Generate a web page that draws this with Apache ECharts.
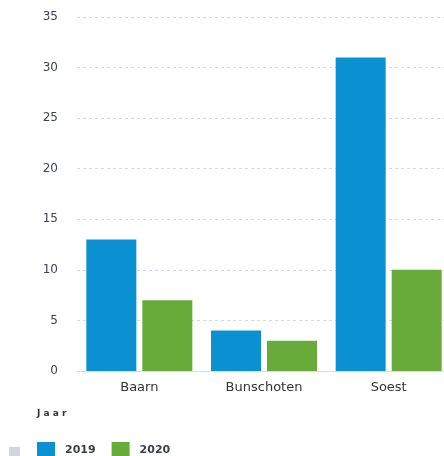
<!DOCTYPE html>
<html>
<head>
<meta charset="utf-8">
<script src="https://cdn.jsdelivr.net/npm/echarts@6/dist/echarts.min.js"></script>
<style>
  html, body { margin: 0; padding: 0; background: #fff; }
  #chart { width: 444px; height: 456px; }
</style>
</head>
<body>
<div id="chart"></div>
<script>
// gemeenten en aantallen per jaar
const categories = ['Baarn', 'Bunschoten', 'Soest'];
const years = ['2019', '2020'];
const values2019 = [13, 4, 31];
const values2020 = [7, 3, 10];
const yTicks = [0, 5, 10, 15, 20, 25, 30, 35];

const font = 'DejaVu Sans';
const colors = ['#0b91d2', '#69ab3a'];

const chart = echarts.init(document.getElementById('chart'));

chart.setOption({
  animation: false,
  color: colors,
  textStyle: { fontFamily: font },
  title: {
    text: 'J a a r',
    left: 32,
    top: 404,
    textStyle: { fontSize: 9, fontWeight: 'bold', color: '#333', fontFamily: font }
  },
  legend: {
    data: years,
    left: 32,
    top: 437,
    itemWidth: 18,
    itemHeight: 16,
    itemGap: 16,
    icon: 'rect',
    textStyle: { fontSize: 11, fontWeight: 'bold', color: '#3a3f48', fontFamily: font, padding: [0, 0, 0, 5] }
  },
  graphic: [{
    type: 'rect',
    left: 9,
    top: 447,
    shape: { width: 11, height: 10 },
    style: { fill: '#d2d6da' }
  }],
  // plot runs past the right edge of the canvas, like in the reference
  grid: { left: 77, width: 374, top: 17, bottom: 85, outerBoundsMode: 'none' },
  xAxis: {
    type: 'category',
    data: categories,
    axisLine: { show: true, lineStyle: { color: '#d8dde3' } },
    axisTick: { show: false },
    axisLabel: { fontSize: 13, color: '#333', margin: 10, fontFamily: font }
  },
  yAxis: {
    type: 'value',
    min: yTicks[0],
    max: yTicks[yTicks.length - 1],
    interval: 5,
    axisLine: { show: false },
    axisTick: { show: false },
    axisLabel: { fontSize: 12, color: '#3b4450', margin: 19, fontFamily: font },
    splitLine: { lineStyle: { color: '#d3d9e0', type: [3, 3] } }
  },
  series: [
    { name: years[0], type: 'bar', data: values2019, barWidth: 50, barGap: '12%' },
    { name: years[1], type: 'bar', data: values2020, barWidth: 50, barGap: '12%' }
  ]
});
</script>
</body>
</html>
